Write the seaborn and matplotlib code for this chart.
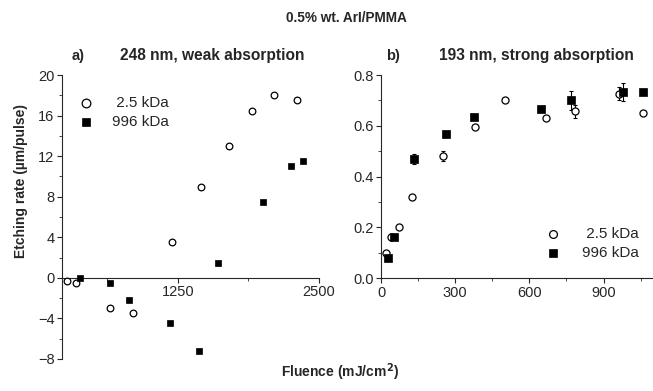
import numpy as np
import pandas as pd
import matplotlib
matplotlib.use("Agg")
import matplotlib.pyplot as plt
import seaborn as sns

# panel a) 248 nm, weak absorption
a_low_x = [270, 350, 650, 850, 1200, 1455, 1705, 1910, 2105, 2305]
a_low_y = [-0.3, -0.5, -3.0, -3.5, 3.5, 9.0, 13.0, 16.5, 18.0, 17.5]
a_high_x = [380, 650, 820, 1180, 1440, 1605, 2005, 2250, 2360]
a_high_y = [0.0, -0.5, -2.2, -4.5, -7.2, 1.5, 7.5, 11.0, 11.5]

# panel b) 193 nm, strong absorption
b_low_x = [22, 40, 72, 126, 250, 381, 500, 668, 783, 963, 1058]
b_low_y = [0.10, 0.16, 0.20, 0.32, 0.48, 0.594, 0.70, 0.63, 0.657, 0.727, 0.65]
b_low_err = [0, 0, 0, 0, 0.02, 0, 0, 0, 0.025, 0.025, 0]
b_high_x = [28, 54, 132, 262, 375, 649, 770, 977, 1058]
b_high_y = [0.08, 0.16, 0.47, 0.566, 0.633, 0.667, 0.70, 0.732, 0.732]
b_high_err = [0, 0, 0.02, 0, 0, 0, 0.037, 0.035, 0]

labels = ["2.5 kDa", "996 kDa"]

sns.set_style("ticks")
plt.rcParams['font.family'] = ['Liberation Sans', 'DejaVu Sans']
plt.rcParams['font.size'] = 10
plt.rcParams['xtick.major.size'] = 3.5
plt.rcParams['ytick.major.size'] = 3.5
plt.rcParams['xtick.minor.size'] = 2
plt.rcParams['ytick.minor.size'] = 2

fig = plt.figure(figsize=(6.53, 3.91), dpi=100)
ax1 = fig.add_axes([0.095, 0.082, 0.3935, 0.726])
ax2 = fig.add_axes([0.5835, 0.289, 0.4165, 0.519])

da_low = pd.DataFrame({"x": a_low_x, "y": a_low_y})
da_high = pd.DataFrame({"x": a_high_x, "y": a_high_y})
db_low = pd.DataFrame({"x": b_low_x, "y": b_low_y})
db_high = pd.DataFrame({"x": b_high_x, "y": b_high_y})

# error bars first, under markers
ax2.errorbar(b_low_x, b_low_y, yerr=b_low_err, fmt='none', ecolor='black',
             elinewidth=0.8, capsize=1.6, capthick=0.8, zorder=2)
ax2.errorbar(b_high_x, b_high_y, yerr=b_high_err, fmt='none', ecolor='black',
             elinewidth=0.8, capsize=1.6, capthick=0.8, zorder=2)

for ax, dl, dh, ms in [(ax1, da_low, da_high, 23), (ax2, db_low, db_high, 26)]:
    sns.scatterplot(data=dl, x="x", y="y", ax=ax, marker='o', s=ms,
                    facecolor='white', edgecolor='black', linewidth=0.9,
                    zorder=3, label=labels[0])
    sns.scatterplot(data=dh, x="x", y="y", ax=ax, marker='s', s=ms,
                    color='black', edgecolor='black', linewidth=0.5,
                    zorder=3, label=labels[1])
    ax.set_xlabel("")
    ax.set_ylabel("")

# panel a axes
ax1.set_xlim(225, 2500)
ax1.set_ylim(-8, 20)
ax1.spines['bottom'].set_position(('data', 0))
ax1.spines['right'].set_visible(False)
ax1.spines['top'].set_visible(False)
ax1.set_xticks([1250, 2500])
ax1.set_xticks([625, 1875], minor=True)
ax1.set_yticks([-8, -4, 0, 4, 8, 12, 16, 20])
ax1.set_yticks([-6, -2, 2, 6, 10, 14, 18], minor=True)
ax1.tick_params(axis='both', labelsize=10.5, pad=2)
h1, _ = ax1.get_legend_handles_labels()
ax1.legend(h1, [" " + labels[0], labels[1]], loc='upper left',
           bbox_to_anchor=(-0.02, 0.975), frameon=False,
           fontsize=11, markerscale=1.3, handletextpad=0.7, labelspacing=0.35)

# panel b axes
ax2.set_xlim(0, 1100)
ax2.set_ylim(0, 0.8)
ax2.spines['right'].set_visible(False)
ax2.spines['top'].set_visible(False)
ax2.set_xticks([0, 300, 600, 900])
ax2.set_xticks([150, 450, 750, 1050], minor=True)
ax2.set_yticks([0.0, 0.2, 0.4, 0.6, 0.8])
ax2.set_yticks([0.1, 0.3, 0.5, 0.7], minor=True)
ax2.yaxis.set_major_formatter(matplotlib.ticker.FormatStrFormatter('%.1f'))
ax2.tick_params(axis='both', labelsize=10.5, pad=2)
h2, _ = ax2.get_legend_handles_labels()
ax2.legend(h2, [" " + labels[0], labels[1]], loc='lower right',
           bbox_to_anchor=(1.0, 0.02), frameon=False,
           fontsize=11, markerscale=1.1, handletextpad=0.9, labelspacing=0.35)

for ax in (ax1, ax2):
    for s in ax.spines.values():
        s.set_linewidth(0.8)

fig.text(0.531, 0.955, "0.5% wt. ArI/PMMA", ha='center', va='center',
         fontsize=9.8, fontweight='bold')
fig.text(0.119, 0.858, "a)", ha='center', va='center', fontsize=10.5, fontweight='bold')
fig.text(0.325, 0.858, "248 nm, weak absorption", ha='center', va='center',
         fontsize=11.2, fontweight='bold')
fig.text(0.602, 0.856, "b)", ha='center', va='center', fontsize=10.5, fontweight='bold')
fig.text(0.821, 0.858, "193 nm, strong absorption", ha='center', va='center',
         fontsize=11.2, fontweight='bold')
fig.text(0.032, 0.536, "Etching rate (\u00b5m/pulse)", ha='center', va='center',
         rotation=90, fontsize=10, fontweight='bold')
fig.text(0.521, 0.049, "Fluence (mJ/cm$^\\mathbf{2}$)", ha='center', va='center',
         fontsize=10, fontweight='bold')

fig.savefig("out.png", dpi=100)
